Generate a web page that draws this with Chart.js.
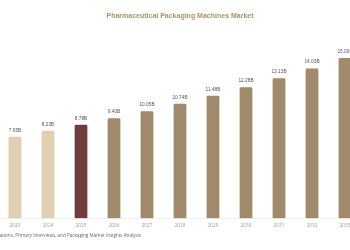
<!DOCTYPE html>
<html>
<head>
<meta charset="utf-8">
<script src="https://cdn.jsdelivr.net/npm/chart.js@4"></script>
<style>
    html, body { margin: 0; padding: 0; width: 350px; height: 250px; overflow: hidden; background: #fff; }
    .chart-wrap { position: absolute; left: -36px; top: 0; width: 420px; height: 250px; }
    .source { position: absolute; right: 209px; top: 232px; white-space: nowrap; font-family: "Open Sans", sans-serif; font-size: 4.6px; color: #666; }
</style>
</head>
<body>
<div class="chart-wrap"><canvas id="marketChart"></canvas></div>
<div class="source">Source: Industry Publications, Primary Interviews, and Packaging Market Insights Analysis</div>
<script>
// Chart data
const years = ["2023", "2024", "2025", "2026", "2027", "2028", "2029", "2030", "2031", "2032", "2033"];
const marketSize = [7.65, 8.23, 8.78, 9.40, 10.05, 10.74, 11.48, 12.28, 13.13, 14.03, 15.00];
const barColors = ["#e0cfb1", "#e0cfb1", "#6f3b3c", "#a18a6b", "#a18a6b", "#a18a6b", "#a18a6b", "#a18a6b", "#a18a6b", "#a18a6b", "#a18a6b"];

// value labels above each bar
const valueLabels = {
    id: 'valueLabels',
    afterDatasetsDraw(chart) {
        const ctx = chart.ctx;
        const meta = chart.getDatasetMeta(0);
        ctx.save();
        ctx.font = '4.8px "Liberation Sans", Arial, sans-serif';
        ctx.fillStyle = '#555';
        ctx.textAlign = 'center';
        ctx.textBaseline = 'bottom';
        meta.data.forEach((bar, i) => {
            ctx.fillText(marketSize[i].toFixed(2) + 'B', bar.x, bar.y - 3.5);
        });
        ctx.restore();
    }
};

document.addEventListener('DOMContentLoaded', function() {
    const ctx = document.getElementById('marketChart').getContext('2d');
    new Chart(ctx, {
        type: 'bar',
        data: {
            labels: years,
            datasets: [{
                data: marketSize,
                backgroundColor: barColors,
                borderColor: '#efe6d6',
                borderWidth: 0.6,
                borderRadius: 2,
                borderSkipped: 'bottom',
                barPercentage: 0.42,
                categoryPercentage: 1
            }]
        },
        options: {
            responsive: true,
            maintainAspectRatio: false,
            animation: false,
            layout: { padding: { left: 34.5, right: 22.5, top: 0, bottom: 17 } },
            scales: {
                x: {
                    grid: { display: false, drawTicks: false, tickLength: 0 },
                    border: { color: '#f0f0f0' },
                    ticks: { color: '#999', font: { family: '"Open Sans", sans-serif', size: 4.6 }, padding: 4.5 }
                },
                y: { display: false, min: 0, max: 17 }
            },
            plugins: {
                legend: { display: false },
                tooltip: { enabled: false },
                title: {
                    display: true,
                    text: 'Pharmaceutical Packaging Machines Market',
                    color: '#a8916f',
                    font: { family: '"Liberation Sans", Arial, sans-serif', size: 7, weight: 'bold' },
                    padding: { top: 12, bottom: 15.6 }
                }
            }
        },
        plugins: [valueLabels]
    });
});
</script>
</body>
</html>
